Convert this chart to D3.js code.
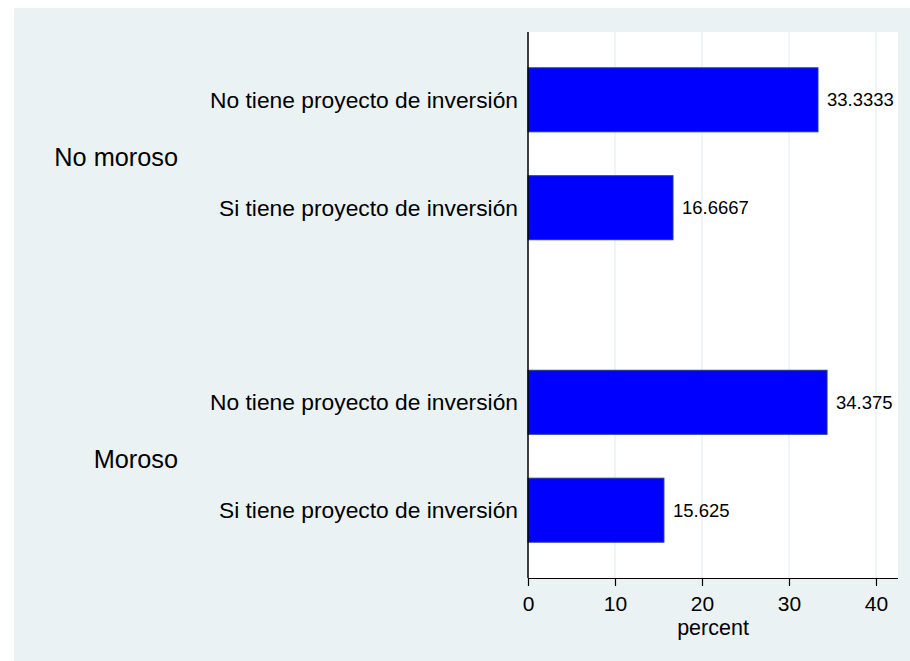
<!DOCTYPE html>
<html>
<head>
<meta charset="utf-8">
<script src="https://cdn.jsdelivr.net/npm/d3@7"></script>
<style>
  html, body { margin: 0; padding: 0; background: #ffffff; }
  text { font-family: "Liberation Sans", Arial, Helvetica, sans-serif; }
</style>
</head>
<body>
<svg id="chart" width="910" height="661"></svg>
<script>
const groups = ["No moroso", "Moroso"];
const subcats = ["No tiene proyecto de inversión", "Si tiene proyecto de inversión"];
const values = [
  [33.3333, 16.6667],
  [34.375, 15.625]
];
const valueLabels = [
  ["33.3333", "16.6667"],
  ["34.375", "15.625"]
];
const xTicks = [0, 10, 20, 30, 40];
const xTitle = "percent";

const svg = d3.select("#chart");
const W = 910, H = 661;

// outer panel
svg.append("rect").attr("x", 14).attr("y", 8).attr("width", W - 14).attr("height", H - 8)
  .attr("fill", "#eaf2f3");

const plot = { left: 528, right: 898, top: 32, bottom: 578 };

svg.append("rect").attr("x", plot.left).attr("y", plot.top)
  .attr("width", plot.right - plot.left).attr("height", plot.bottom - plot.top)
  .attr("fill", "#ffffff");

const x = d3.scaleLinear().domain([0, 42.53]).range([plot.left, plot.right]);

const yGroup = d3.scaleBand().domain(groups).range([plot.top, plot.bottom])
  .paddingInner(0.25).paddingOuter(0.0276);
const yInner = d3.scaleBand().domain(subcats).range([0, yGroup.bandwidth()])
  .paddingInner(0.407).paddingOuter(0.2545);

// grid lines
svg.append("g").selectAll("line").data(xTicks.filter(d => d > 0)).join("line")
  .attr("x1", d => x(d)).attr("x2", d => x(d))
  .attr("y1", plot.top).attr("y2", plot.bottom)
  .attr("stroke", "#eaf2f3").attr("stroke-width", 1.5);

// bars
const data = [];
groups.forEach((g, gi) => subcats.forEach((s, si) => data.push({ g, s, v: values[gi][si], lab: valueLabels[gi][si] })));

svg.append("g").selectAll("rect").data(data).join("rect")
  .attr("x", x(0))
  .attr("y", d => yGroup(d.g) + yInner(d.s))
  .attr("width", d => x(d.v) - x(0))
  .attr("height", yInner.bandwidth())
  .attr("fill", "#0000ff")
  .attr("stroke", "#1a3a8c").attr("stroke-width", 1);

// value labels
svg.append("g").selectAll("text").data(data).join("text")
  .attr("x", d => x(d.v) + 9)
  .attr("y", d => yGroup(d.g) + yInner(d.s) + yInner.bandwidth() / 2)
  .attr("dy", "0.35em")
  .attr("font-size", 18.5)
  .attr("fill", "#000")
  .text(d => d.lab);

// sub-category labels
svg.append("g").selectAll("text").data(data).join("text")
  .attr("x", plot.left - 10)
  .attr("y", d => yGroup(d.g) + yInner(d.s) + yInner.bandwidth() / 2)
  .attr("dy", "0.35em")
  .attr("text-anchor", "end")
  .attr("font-size", 22.8)
  .attr("fill", "#000")
  .text(d => d.s);

// group labels
svg.append("g").selectAll("text").data(groups).join("text")
  .attr("x", 178)
  .attr("y", d => yGroup(d) + yGroup.bandwidth() / 2 + 3)
  .attr("dy", "0.35em")
  .attr("text-anchor", "end")
  .attr("font-size", 25.3)
  .attr("fill", "#000")
  .text(d => d);

// x axis
const xAxis = d3.axisBottom(x).tickValues(xTicks).tickSize(8).tickPadding(10).tickFormat(d3.format("d"));
const gx = svg.append("g").attr("transform", `translate(0,${plot.bottom})`).call(xAxis);
gx.select(".domain").attr("d", `M${plot.left},0.5H${plot.right}`).attr("stroke", "#000").attr("stroke-width", 1.2);
gx.selectAll(".tick line").attr("stroke", "#000").attr("stroke-width", 1.2);
gx.selectAll(".tick text").attr("font-size", 21).attr("fill", "#000")
  .attr("font-family", "'Liberation Sans', Arial, sans-serif");

// left axis line
svg.append("line").attr("x1", plot.left).attr("x2", plot.left)
  .attr("y1", plot.top).attr("y2", plot.bottom)
  .attr("stroke", "#000").attr("stroke-width", 1.5);

// x title
svg.append("text").attr("x", (plot.left + plot.right) / 2).attr("y", 635)
  .attr("text-anchor", "middle").attr("font-size", 21.5).attr("fill", "#000")
  .text(xTitle);
</script>
</body>
</html>
